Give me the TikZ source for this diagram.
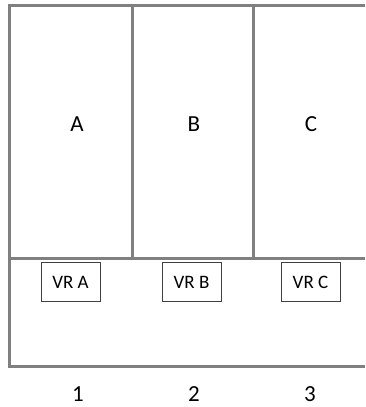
\documentclass[tikz,border=0pt]{standalone}
\usepackage{fontspec}
\setmainfont{Carlito}
\usetikzlibrary{positioning}
\definecolor{wallgray}{RGB}{128,128,128}
\tikzstyle{wall}=[draw=wallgray,line width=3pt]
\tikzstyle{room}=[font=\fontsize{23}{27}\selectfont,node distance=117pt]
\tikzstyle{vr}=[draw=black!75,line width=0.8pt,minimum width=59pt,minimum height=39pt,inner sep=0,font=\fontsize{19}{23}\selectfont,node distance=118pt]
\tikzstyle{num}=[font=\fontsize{23}{27}\selectfont,node distance=116pt]
\begin{document}
\begin{tikzpicture}[x=1pt,y=1pt]
  \useasboundingbox (0,0) rectangle (365,-407);
  % outer frame, open on the right
  \draw[wall] (365,-5) -- (9,-5) -- (9,-366) -- (365,-366);
  \draw[wall] (9,-258) -- (365,-258);
  \draw[wall] (132,-5) -- (132,-258);
  \draw[wall] (253,-5) -- (253,-258);
  % rooms
  \node[room] (A) at (77,-124) {A};
  \node[room,right of=A] (B) {B};
  \node[room,right of=B] (C) {C};
  % vr boxes
  \node[vr] (vrA) at (70.5,-282) {VR A};
  \node[vr,right of=vrA,node distance=121pt] (vrB) {VR B};
  \node[vr,right of=vrB,node distance=119pt] (vrC) {VR C};
  % numbers
  \node[num] (n1) at (78,-394) {1};
  \node[num,right of=n1] (n2) {2};
  \node[num,right of=n2] (n3) {3};
\end{tikzpicture}
\end{document}
